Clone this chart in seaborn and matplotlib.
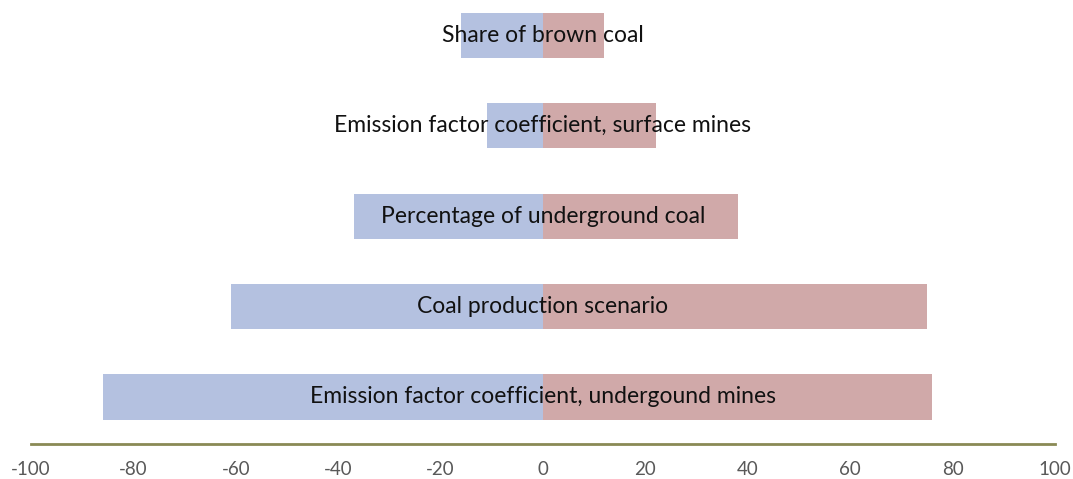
import pandas as pd
import matplotlib.pyplot as plt
import seaborn as sns

# Parameters (top to bottom) and the low / high change of the result (%)
parameters = [
    'Share of brown coal',
    'Emission factor coefficient, surface mines',
    'Percentage of underground coal',
    'Coal production scenario',
    'Emission factor coefficient, undergound mines',
]
low_change = [-16, -11, -37, -61, -86]
high_change = [12, 22, 38, 75, 76]
x_ticks = [-100, -80, -60, -40, -20, 0, 20, 40, 60, 80, 100]

data = pd.DataFrame({'Parameter': parameters, 'Low': low_change, 'High': high_change})

sns.set_style('white')
plt.rcParams['font.family'] = ['Lato', 'DejaVu Sans']

fig = plt.figure(figsize=(10.73, 4.79), dpi=100)
ax = fig.add_axes([31 / 1073, 1 - 444 / 479, 1024 / 1073, 444 / 479])

sns.barplot(x='Low', y='Parameter', data=data, orient='h', color='#b4c1e0',
            saturation=1, width=0.5, linewidth=0, ax=ax)
sns.barplot(x='High', y='Parameter', data=data, orient='h', color='#d0a9a9',
            saturation=1, width=0.5, linewidth=0, ax=ax)

# Parameter names written across the bars
for i, name in enumerate(parameters):
    ax.text(0, i, name, ha='center', va='center', fontsize=16.5, color='#111111')

ax.set_xlim(-100, 100)
ax.set_ylim(4.52, -0.39)
ax.set_xticks(x_ticks)
ax.set_xticklabels([str(t) for t in x_ticks], fontsize=13.5, color='#595959')
ax.set_yticks([])
ax.set_xlabel('')
ax.set_ylabel('')
ax.tick_params(axis='x', length=0, pad=12)

for side in ['top', 'left', 'right']:
    ax.spines[side].set_visible(False)
ax.spines['bottom'].set_color('#8a8a55')
ax.spines['bottom'].set_linewidth(2)

fig.savefig('out.png', dpi=100)
